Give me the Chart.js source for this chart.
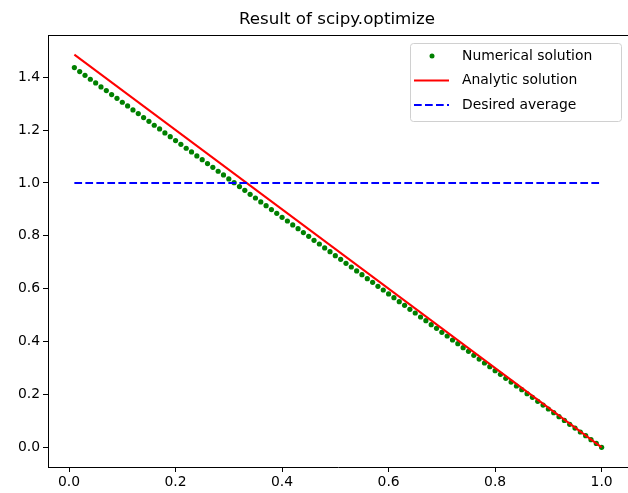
<!DOCTYPE html>
<html>
<head>
<meta charset="utf-8">
<script src="https://cdn.jsdelivr.net/npm/chart.js@4"></script>
<style>
    body { margin: 0; background: #fff; }
    canvas { display: block; }
</style>
</head>
<body>
<canvas id="chart" width="628" height="493"></canvas>
<script>
const xValues = [
    0.01, 0.02, 0.03, 0.04, 0.05, 0.06, 0.07, 0.08, 0.09, 0.10,
    0.11, 0.12, 0.13, 0.14, 0.15, 0.16, 0.17, 0.18, 0.19, 0.20,
    0.21, 0.22, 0.23, 0.24, 0.25, 0.26, 0.27, 0.28, 0.29, 0.30,
    0.31, 0.32, 0.33, 0.34, 0.35, 0.36, 0.37, 0.38, 0.39, 0.40,
    0.41, 0.42, 0.43, 0.44, 0.45, 0.46, 0.47, 0.48, 0.49, 0.50,
    0.51, 0.52, 0.53, 0.54, 0.55, 0.56, 0.57, 0.58, 0.59, 0.60,
    0.61, 0.62, 0.63, 0.64, 0.65, 0.66, 0.67, 0.68, 0.69, 0.70,
    0.71, 0.72, 0.73, 0.74, 0.75, 0.76, 0.77, 0.78, 0.79, 0.80,
    0.81, 0.82, 0.83, 0.84, 0.85, 0.86, 0.87, 0.88, 0.89, 0.90,
    0.91, 0.92, 0.93, 0.94, 0.95, 0.96, 0.97, 0.98, 0.99, 1.00
];
const numericalY = [
    1.436, 1.421, 1.407, 1.392, 1.378, 1.363, 1.349, 1.334, 1.320, 1.305,
    1.291, 1.276, 1.262, 1.247, 1.233, 1.218, 1.204, 1.189, 1.175, 1.160,
    1.146, 1.131, 1.117, 1.102, 1.088, 1.073, 1.059, 1.044, 1.030, 1.015,
    1.001, 0.986, 0.972, 0.957, 0.943, 0.928, 0.914, 0.899, 0.885, 0.870,
    0.856, 0.841, 0.827, 0.812, 0.798, 0.783, 0.769, 0.754, 0.740, 0.725,
    0.711, 0.696, 0.682, 0.667, 0.653, 0.638, 0.624, 0.609, 0.595, 0.580,
    0.566, 0.551, 0.537, 0.522, 0.508, 0.493, 0.479, 0.464, 0.450, 0.435,
    0.421, 0.406, 0.392, 0.377, 0.363, 0.348, 0.334, 0.319, 0.305, 0.290,
    0.276, 0.261, 0.247, 0.232, 0.218, 0.203, 0.189, 0.174, 0.160, 0.145,
    0.131, 0.116, 0.102, 0.087, 0.073, 0.058, 0.044, 0.029, 0.015, 0.000
];
const analyticX = [0.01, 1.00];
const analyticY = [1.485, 0.0];
const averageX = [0.01, 1.00];
const averageY = [1.0, 1.0];

const xTicks = [0.0, 0.2, 0.4, 0.6, 0.8, 1.0];
const yTicks = [0.0, 0.2, 0.4, 0.6, 0.8, 1.0, 1.2, 1.4];

const titleText = 'Result of scipy.optimize';
const legendItems = [
    { label: 'Numerical solution', kind: 'dot', color: '#008000' },
    { label: 'Analytic solution', kind: 'line', color: '#ff0000' },
    { label: 'Desired average', kind: 'dash', color: '#0000ff' }
];

const FONT = '"DejaVu Sans", sans-serif';

function toPoints(xs, ys) {
    return xs.map((x, i) => ({ x: x, y: ys[i] }));
}

// title, top spine and legend the matplotlib way
// (the right spine sits just past the picture edge, so it is not drawn)
const extras = {
    id: 'extras',
    afterDraw(chart) {
        const ctx = chart.ctx;
        const a = chart.chartArea;
        ctx.save();

        ctx.strokeStyle = '#000';
        ctx.lineWidth = 1;
        ctx.beginPath();
        ctx.moveTo(a.left, a.top + 0.5);
        ctx.lineTo(a.right, a.top + 0.5);
        ctx.stroke();

        ctx.fillStyle = '#000';
        ctx.font = '16.7px ' + FONT;
        ctx.textAlign = 'center';
        ctx.textBaseline = 'alphabetic';
        ctx.fillText(titleText, 337, 24);

        // legend box
        const bx = 410.5, by = 43.5, bw = 211, bh = 78;
        ctx.beginPath();
        ctx.roundRect(bx, by, bw, bh, 3);
        ctx.fillStyle = 'rgba(255,255,255,0.8)';
        ctx.fill();
        ctx.strokeStyle = '#d0d0d0';
        ctx.lineWidth = 1;
        ctx.stroke();

        ctx.font = '13.9px ' + FONT;
        ctx.textAlign = 'left';
        ctx.textBaseline = 'middle';
        legendItems.forEach((item, i) => {
            const y = 56 + i * 24.5;
            ctx.strokeStyle = item.color;
            ctx.fillStyle = item.color;
            if (item.kind === 'dot') {
                ctx.beginPath();
                ctx.arc(432, y, 2.5, 0, Math.PI * 2);
                ctx.fill();
            } else {
                ctx.lineWidth = 2;
                ctx.setLineDash(item.kind === 'dash' ? [7.7, 3.3] : []);
                ctx.beginPath();
                ctx.moveTo(414, y);
                ctx.lineTo(449, y);
                ctx.stroke();
                ctx.setLineDash([]);
            }
            ctx.fillStyle = '#000';
            ctx.fillText(item.label, 462, y);
        });
        ctx.restore();
    }
};

const ctx = document.getElementById('chart').getContext('2d');
new Chart(ctx, {
    type: 'scatter',
    data: {
        datasets: [
            {
                label: 'Desired average',
                data: toPoints(averageX, averageY),
                showLine: true,
                borderColor: '#0000ff',
                borderWidth: 2,
                borderDash: [7.7, 3.3],
                pointRadius: 0,
                order: 1
            },
            {
                label: 'Analytic solution',
                data: toPoints(analyticX, analyticY),
                showLine: true,
                borderColor: '#ff0000',
                borderWidth: 2,
                pointRadius: 0,
                order: 2
            },
            {
                label: 'Numerical solution',
                data: toPoints(xValues, numericalY),
                showLine: false,
                backgroundColor: '#008000',
                borderWidth: 0,
                pointRadius: 2.6,
                order: 3
            }
        ]
    },
    options: {
        responsive: false,
        animation: false,
        devicePixelRatio: 1,
        layout: { autoPadding: false, padding: { top: 35, left: 0, right: 0, bottom: 0 } },
        plugins: {
            legend: { display: false },
            title: { display: false },
            tooltip: { enabled: false }
        },
        scales: {
            x: {
                type: 'linear',
                min: -0.0395,
                max: 1.0495,
                afterBuildTicks: (s) => { s.ticks = xTicks.map(v => ({ value: v })); },
                afterFit: (s) => { s.height = 26; s.paddingLeft = 0; s.paddingRight = 0; },
                grid: { drawOnChartArea: false, color: '#000', tickLength: 5 },
                border: { display: true, color: '#000', width: 1 },
                ticks: {
                    color: '#000',
                    font: { family: FONT, size: 13.9 },
                    padding: 2,
                    maxRotation: 0,
                    callback: (v) => v.toFixed(1)
                }
            },
            y: {
                type: 'linear',
                min: -0.0743,
                max: 1.5593,
                afterBuildTicks: (s) => { s.ticks = yTicks.map(v => ({ value: v })); },
                afterFit: (s) => { s.width = 48; s.paddingTop = 0; s.paddingBottom = 0; },
                grid: { drawOnChartArea: false, color: '#000', tickLength: 5 },
                border: { display: true, color: '#000', width: 1 },
                ticks: {
                    color: '#000',
                    font: { family: FONT, size: 13.9 },
                    padding: 3,
                    callback: (v) => v.toFixed(1)
                }
            }
        }
    },
    plugins: [extras]
});
</script>
</body>
</html>
